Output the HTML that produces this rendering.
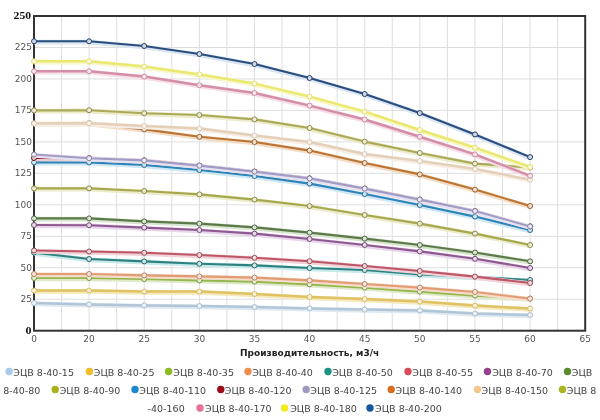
<!DOCTYPE html>
<html><head><meta charset="utf-8"><title>ЭЦВ 8-40</title>
<style>
html,body{margin:0;padding:0;background:#fff;width:600px;height:420px;overflow:hidden}
svg{display:block}
.ax{font-family:"DejaVu Sans","Liberation Sans",sans-serif;font-size:9px;fill:#555}
.axb{font-family:"DejaVu Sans","Liberation Sans",sans-serif;font-size:9px;font-weight:bold;fill:#222}
.sb{font-family:"Liberation Serif",serif;font-size:10.5px;font-weight:bold;fill:#111}
.lg{font-family:"DejaVu Sans","Liberation Sans",sans-serif;font-size:9.5px;fill:#444}
</style></head><body>
<svg width="600" height="420" viewBox="0 0 600 420">
<rect x="0" y="0" width="600" height="420" fill="#fff"/>
<path d="M61.56 16.0V330.7 M89.12 16.0V330.7 M116.68 16.0V330.7 M144.24 16.0V330.7 M171.80 16.0V330.7 M199.36 16.0V330.7 M226.92 16.0V330.7 M254.48 16.0V330.7 M282.04 16.0V330.7 M309.60 16.0V330.7 M337.16 16.0V330.7 M364.72 16.0V330.7 M392.28 16.0V330.7 M419.84 16.0V330.7 M447.40 16.0V330.7 M474.96 16.0V330.7 M502.52 16.0V330.7 M530.08 16.0V330.7 M557.64 16.0V330.7 M34.0 299.23H585.2 M34.0 267.76H585.2 M34.0 236.29H585.2 M34.0 204.82H585.2 M34.0 173.35H585.2 M34.0 141.88H585.2 M34.0 110.41H585.2 M34.0 78.94H585.2 M34.0 47.47H585.2" stroke="#dedede" stroke-width="1" fill="none"/>
<rect x="34.0" y="16.0" width="551.2" height="314.7" fill="none" stroke="#333" stroke-width="2"/>
<polyline points="34.0,303.8 89.1,305.2 144.2,306.2 199.4,306.8 254.5,307.8 309.6,309.2 364.7,310.4 419.8,311.2 475.0,314.4 530.1,315.8" fill="none" stroke="#dfe9f1" stroke-width="4.8" stroke-linejoin="round"/>
<polyline points="34.0,303.0 89.1,304.4 144.2,305.4 199.4,306.0 254.5,307.0 309.6,308.4 364.7,309.6 419.8,310.4 475.0,313.6 530.1,315.0" fill="none" stroke="#b0c6d8" stroke-width="2.5" stroke-linejoin="round"/>
<circle cx="34.0" cy="303.0" r="2.5" fill="#eef2f6" stroke="#a9becf" stroke-width="1"/><circle cx="89.1" cy="304.4" r="2.5" fill="#eef2f6" stroke="#a9becf" stroke-width="1"/><circle cx="144.2" cy="305.4" r="2.5" fill="#eef2f6" stroke="#a9becf" stroke-width="1"/><circle cx="199.4" cy="306.0" r="2.5" fill="#eef2f6" stroke="#a9becf" stroke-width="1"/><circle cx="254.5" cy="307.0" r="2.5" fill="#eef2f6" stroke="#a9becf" stroke-width="1"/><circle cx="309.6" cy="308.4" r="2.5" fill="#eef2f6" stroke="#a9becf" stroke-width="1"/><circle cx="364.7" cy="309.6" r="2.5" fill="#eef2f6" stroke="#a9becf" stroke-width="1"/><circle cx="419.8" cy="310.4" r="2.5" fill="#eef2f6" stroke="#a9becf" stroke-width="1"/><circle cx="475.0" cy="313.6" r="2.5" fill="#eef2f6" stroke="#a9becf" stroke-width="1"/><circle cx="530.1" cy="315.0" r="2.5" fill="#eef2f6" stroke="#a9becf" stroke-width="1"/>
<polyline points="34.0,291.4 89.1,291.4 144.2,292.4 199.4,292.4 254.5,294.8 309.6,297.8 364.7,299.8 419.8,302.4 475.0,306.4 530.1,309.4" fill="none" stroke="#f5e9bb" stroke-width="4.8" stroke-linejoin="round"/>
<polyline points="34.0,290.6 89.1,290.6 144.2,291.6 199.4,291.6 254.5,294.0 309.6,297.0 364.7,299.0 419.8,301.6 475.0,305.6 530.1,308.6" fill="none" stroke="#e0c262" stroke-width="2.5" stroke-linejoin="round"/>
<circle cx="34.0" cy="290.6" r="2.5" fill="#f8f2dc" stroke="#d7ba5e" stroke-width="1"/><circle cx="89.1" cy="290.6" r="2.5" fill="#f8f2dc" stroke="#d7ba5e" stroke-width="1"/><circle cx="144.2" cy="291.6" r="2.5" fill="#f8f2dc" stroke="#d7ba5e" stroke-width="1"/><circle cx="199.4" cy="291.6" r="2.5" fill="#f8f2dc" stroke="#d7ba5e" stroke-width="1"/><circle cx="254.5" cy="294.0" r="2.5" fill="#f8f2dc" stroke="#d7ba5e" stroke-width="1"/><circle cx="309.6" cy="297.0" r="2.5" fill="#f8f2dc" stroke="#d7ba5e" stroke-width="1"/><circle cx="364.7" cy="299.0" r="2.5" fill="#f8f2dc" stroke="#d7ba5e" stroke-width="1"/><circle cx="419.8" cy="301.6" r="2.5" fill="#f8f2dc" stroke="#d7ba5e" stroke-width="1"/><circle cx="475.0" cy="305.6" r="2.5" fill="#f8f2dc" stroke="#d7ba5e" stroke-width="1"/><circle cx="530.1" cy="308.6" r="2.5" fill="#f8f2dc" stroke="#d7ba5e" stroke-width="1"/>
<polyline points="34.0,278.8 89.1,278.8 144.2,279.8 199.4,281.2 254.5,282.4 309.6,285.2 364.7,288.4 419.8,292.4 475.0,296.4 530.1,299.4" fill="none" stroke="#e0eacb" stroke-width="4.8" stroke-linejoin="round"/>
<polyline points="34.0,278.0 89.1,278.0 144.2,279.0 199.4,280.4 254.5,281.6 309.6,284.4 364.7,287.6 419.8,291.6 475.0,295.6 530.1,298.6" fill="none" stroke="#96b64e" stroke-width="2.1" stroke-linejoin="round"/>
<circle cx="34.0" cy="278.0" r="2.5" fill="#e8efd8" stroke="#7b9540" stroke-width="1"/><circle cx="89.1" cy="278.0" r="2.5" fill="#e8efd8" stroke="#7b9540" stroke-width="1"/><circle cx="144.2" cy="279.0" r="2.5" fill="#e8efd8" stroke="#7b9540" stroke-width="1"/><circle cx="199.4" cy="280.4" r="2.5" fill="#e8efd8" stroke="#7b9540" stroke-width="1"/><circle cx="254.5" cy="281.6" r="2.5" fill="#e8efd8" stroke="#7b9540" stroke-width="1"/><circle cx="309.6" cy="284.4" r="2.5" fill="#e8efd8" stroke="#7b9540" stroke-width="1"/><circle cx="364.7" cy="287.6" r="2.5" fill="#e8efd8" stroke="#7b9540" stroke-width="1"/><circle cx="419.8" cy="291.6" r="2.5" fill="#e8efd8" stroke="#7b9540" stroke-width="1"/><circle cx="475.0" cy="295.6" r="2.5" fill="#e8efd8" stroke="#7b9540" stroke-width="1"/><circle cx="530.1" cy="298.6" r="2.5" fill="#e8efd8" stroke="#7b9540" stroke-width="1"/>
<polyline points="34.0,274.8 89.1,274.8 144.2,276.2 199.4,277.2 254.5,278.4 309.6,281.2 364.7,284.8 419.8,288.4 475.0,292.8 530.1,299.4" fill="none" stroke="#f6dccb" stroke-width="4.8" stroke-linejoin="round"/>
<polyline points="34.0,274.0 89.1,274.0 144.2,275.4 199.4,276.4 254.5,277.6 309.6,280.4 364.7,284.0 419.8,287.6 475.0,292.0 530.1,298.6" fill="none" stroke="#e29c74" stroke-width="2.1" stroke-linejoin="round"/>
<circle cx="34.0" cy="274.0" r="2.5" fill="#f9e9e0" stroke="#b9805f" stroke-width="1"/><circle cx="89.1" cy="274.0" r="2.5" fill="#f9e9e0" stroke="#b9805f" stroke-width="1"/><circle cx="144.2" cy="275.4" r="2.5" fill="#f9e9e0" stroke="#b9805f" stroke-width="1"/><circle cx="199.4" cy="276.4" r="2.5" fill="#f9e9e0" stroke="#b9805f" stroke-width="1"/><circle cx="254.5" cy="277.6" r="2.5" fill="#f9e9e0" stroke="#b9805f" stroke-width="1"/><circle cx="309.6" cy="280.4" r="2.5" fill="#f9e9e0" stroke="#b9805f" stroke-width="1"/><circle cx="364.7" cy="284.0" r="2.5" fill="#f9e9e0" stroke="#b9805f" stroke-width="1"/><circle cx="419.8" cy="287.6" r="2.5" fill="#f9e9e0" stroke="#b9805f" stroke-width="1"/><circle cx="475.0" cy="292.0" r="2.5" fill="#f9e9e0" stroke="#b9805f" stroke-width="1"/><circle cx="530.1" cy="298.6" r="2.5" fill="#f9e9e0" stroke="#b9805f" stroke-width="1"/>
<polyline points="34.0,253.4 89.1,259.8 144.2,262.2 199.4,264.6 254.5,266.2 309.6,268.8 364.7,270.8 419.8,275.2 475.0,277.8 530.1,280.8" fill="none" stroke="#c8eaea" stroke-width="4.8" stroke-linejoin="round"/>
<polyline points="34.0,252.6 89.1,259.0 144.2,261.4 199.4,263.8 254.5,265.4 309.6,268.0 364.7,270.0 419.8,274.4 475.0,277.0 530.1,280.0" fill="none" stroke="#2d8281" stroke-width="2.1" stroke-linejoin="round"/>
<circle cx="34.0" cy="252.6" r="2.5" fill="#d1e4e3" stroke="#256b6a" stroke-width="1"/><circle cx="89.1" cy="259.0" r="2.5" fill="#d1e4e3" stroke="#256b6a" stroke-width="1"/><circle cx="144.2" cy="261.4" r="2.5" fill="#d1e4e3" stroke="#256b6a" stroke-width="1"/><circle cx="199.4" cy="263.8" r="2.5" fill="#d1e4e3" stroke="#256b6a" stroke-width="1"/><circle cx="254.5" cy="265.4" r="2.5" fill="#d1e4e3" stroke="#256b6a" stroke-width="1"/><circle cx="309.6" cy="268.0" r="2.5" fill="#d1e4e3" stroke="#256b6a" stroke-width="1"/><circle cx="364.7" cy="270.0" r="2.5" fill="#d1e4e3" stroke="#256b6a" stroke-width="1"/><circle cx="419.8" cy="274.4" r="2.5" fill="#d1e4e3" stroke="#256b6a" stroke-width="1"/><circle cx="475.0" cy="277.0" r="2.5" fill="#d1e4e3" stroke="#256b6a" stroke-width="1"/><circle cx="530.1" cy="280.0" r="2.5" fill="#d1e4e3" stroke="#256b6a" stroke-width="1"/>
<polyline points="34.0,251.3 89.1,252.3 144.2,253.6 199.4,255.8 254.5,258.6 309.6,262.0 364.7,266.8 419.8,271.8 475.0,277.4 530.1,283.8" fill="none" stroke="#f1d2d8" stroke-width="4.8" stroke-linejoin="round"/>
<polyline points="34.0,250.5 89.1,251.5 144.2,252.8 199.4,255.0 254.5,257.8 309.6,261.2 364.7,266.0 419.8,271.0 475.0,276.6 530.1,283.0" fill="none" stroke="#bd5666" stroke-width="2.1" stroke-linejoin="round"/>
<circle cx="34.0" cy="250.5" r="2.5" fill="#f0dadd" stroke="#9b4754" stroke-width="1"/><circle cx="89.1" cy="251.5" r="2.5" fill="#f0dadd" stroke="#9b4754" stroke-width="1"/><circle cx="144.2" cy="252.8" r="2.5" fill="#f0dadd" stroke="#9b4754" stroke-width="1"/><circle cx="199.4" cy="255.0" r="2.5" fill="#f0dadd" stroke="#9b4754" stroke-width="1"/><circle cx="254.5" cy="257.8" r="2.5" fill="#f0dadd" stroke="#9b4754" stroke-width="1"/><circle cx="309.6" cy="261.2" r="2.5" fill="#f0dadd" stroke="#9b4754" stroke-width="1"/><circle cx="364.7" cy="266.0" r="2.5" fill="#f0dadd" stroke="#9b4754" stroke-width="1"/><circle cx="419.8" cy="271.0" r="2.5" fill="#f0dadd" stroke="#9b4754" stroke-width="1"/><circle cx="475.0" cy="276.6" r="2.5" fill="#f0dadd" stroke="#9b4754" stroke-width="1"/><circle cx="530.1" cy="283.0" r="2.5" fill="#f0dadd" stroke="#9b4754" stroke-width="1"/>
<polyline points="34.0,225.8 89.1,226.0 144.2,228.4 199.4,230.8 254.5,234.4 309.6,239.8 364.7,245.8 419.8,252.2 475.0,259.6 530.1,268.8" fill="none" stroke="#e8d6ea" stroke-width="4.8" stroke-linejoin="round"/>
<polyline points="34.0,225.0 89.1,225.2 144.2,227.6 199.4,230.0 254.5,233.6 309.6,239.0 364.7,245.0 419.8,251.4 475.0,258.8 530.1,268.0" fill="none" stroke="#8e5890" stroke-width="2.1" stroke-linejoin="round"/>
<circle cx="34.0" cy="225.0" r="2.5" fill="#e6dae7" stroke="#744876" stroke-width="1"/><circle cx="89.1" cy="225.2" r="2.5" fill="#e6dae7" stroke="#744876" stroke-width="1"/><circle cx="144.2" cy="227.6" r="2.5" fill="#e6dae7" stroke="#744876" stroke-width="1"/><circle cx="199.4" cy="230.0" r="2.5" fill="#e6dae7" stroke="#744876" stroke-width="1"/><circle cx="254.5" cy="233.6" r="2.5" fill="#e6dae7" stroke="#744876" stroke-width="1"/><circle cx="309.6" cy="239.0" r="2.5" fill="#e6dae7" stroke="#744876" stroke-width="1"/><circle cx="364.7" cy="245.0" r="2.5" fill="#e6dae7" stroke="#744876" stroke-width="1"/><circle cx="419.8" cy="251.4" r="2.5" fill="#e6dae7" stroke="#744876" stroke-width="1"/><circle cx="475.0" cy="258.8" r="2.5" fill="#e6dae7" stroke="#744876" stroke-width="1"/><circle cx="530.1" cy="268.0" r="2.5" fill="#e6dae7" stroke="#744876" stroke-width="1"/>
<polyline points="34.0,219.2 89.1,219.2 144.2,222.2 199.4,224.4 254.5,228.2 309.6,233.4 364.7,239.4 419.8,245.8 475.0,253.3 530.1,262.1" fill="none" stroke="#d8e4cf" stroke-width="4.8" stroke-linejoin="round"/>
<polyline points="34.0,218.4 89.1,218.4 144.2,221.4 199.4,223.6 254.5,227.4 309.6,232.6 364.7,238.6 419.8,245.0 475.0,252.5 530.1,261.3" fill="none" stroke="#5a7a48" stroke-width="2.1" stroke-linejoin="round"/>
<circle cx="34.0" cy="218.4" r="2.5" fill="#dbe2d7" stroke="#4a643b" stroke-width="1"/><circle cx="89.1" cy="218.4" r="2.5" fill="#dbe2d7" stroke="#4a643b" stroke-width="1"/><circle cx="144.2" cy="221.4" r="2.5" fill="#dbe2d7" stroke="#4a643b" stroke-width="1"/><circle cx="199.4" cy="223.6" r="2.5" fill="#dbe2d7" stroke="#4a643b" stroke-width="1"/><circle cx="254.5" cy="227.4" r="2.5" fill="#dbe2d7" stroke="#4a643b" stroke-width="1"/><circle cx="309.6" cy="232.6" r="2.5" fill="#dbe2d7" stroke="#4a643b" stroke-width="1"/><circle cx="364.7" cy="238.6" r="2.5" fill="#dbe2d7" stroke="#4a643b" stroke-width="1"/><circle cx="419.8" cy="245.0" r="2.5" fill="#dbe2d7" stroke="#4a643b" stroke-width="1"/><circle cx="475.0" cy="252.5" r="2.5" fill="#dbe2d7" stroke="#4a643b" stroke-width="1"/><circle cx="530.1" cy="261.3" r="2.5" fill="#dbe2d7" stroke="#4a643b" stroke-width="1"/>
<polyline points="34.0,189.2 89.1,189.2 144.2,191.8 199.4,195.2 254.5,200.4 309.6,206.8 364.7,215.8 419.8,224.4 475.0,234.4 530.1,245.8" fill="none" stroke="#ececcb" stroke-width="4.8" stroke-linejoin="round"/>
<polyline points="34.0,188.4 89.1,188.4 144.2,191.0 199.4,194.4 254.5,199.6 309.6,206.0 364.7,215.0 419.8,223.6 475.0,233.6 530.1,245.0" fill="none" stroke="#a6a84e" stroke-width="2.1" stroke-linejoin="round"/>
<circle cx="34.0" cy="188.4" r="2.5" fill="#ebecd8" stroke="#888a40" stroke-width="1"/><circle cx="89.1" cy="188.4" r="2.5" fill="#ebecd8" stroke="#888a40" stroke-width="1"/><circle cx="144.2" cy="191.0" r="2.5" fill="#ebecd8" stroke="#888a40" stroke-width="1"/><circle cx="199.4" cy="194.4" r="2.5" fill="#ebecd8" stroke="#888a40" stroke-width="1"/><circle cx="254.5" cy="199.6" r="2.5" fill="#ebecd8" stroke="#888a40" stroke-width="1"/><circle cx="309.6" cy="206.0" r="2.5" fill="#ebecd8" stroke="#888a40" stroke-width="1"/><circle cx="364.7" cy="215.0" r="2.5" fill="#ebecd8" stroke="#888a40" stroke-width="1"/><circle cx="419.8" cy="223.6" r="2.5" fill="#ebecd8" stroke="#888a40" stroke-width="1"/><circle cx="475.0" cy="233.6" r="2.5" fill="#ebecd8" stroke="#888a40" stroke-width="1"/><circle cx="530.1" cy="245.0" r="2.5" fill="#ebecd8" stroke="#888a40" stroke-width="1"/>
<polyline points="34.0,163.2 89.1,163.2 144.2,165.8 199.4,170.8 254.5,176.8 309.6,184.4 364.7,194.8 419.8,205.8 475.0,217.4 530.1,230.8" fill="none" stroke="#d0e7f5" stroke-width="4.8" stroke-linejoin="round"/>
<polyline points="34.0,162.4 89.1,162.4 144.2,165.0 199.4,170.0 254.5,176.0 309.6,183.6 364.7,194.0 419.8,205.0 475.0,216.6 530.1,230.0" fill="none" stroke="#2e84b6" stroke-width="2.1" stroke-linejoin="round"/>
<circle cx="34.0" cy="162.4" r="2.5" fill="#d1e4ef" stroke="#266c95" stroke-width="1"/><circle cx="89.1" cy="162.4" r="2.5" fill="#d1e4ef" stroke="#266c95" stroke-width="1"/><circle cx="144.2" cy="165.0" r="2.5" fill="#d1e4ef" stroke="#266c95" stroke-width="1"/><circle cx="199.4" cy="170.0" r="2.5" fill="#d1e4ef" stroke="#266c95" stroke-width="1"/><circle cx="254.5" cy="176.0" r="2.5" fill="#d1e4ef" stroke="#266c95" stroke-width="1"/><circle cx="309.6" cy="183.6" r="2.5" fill="#d1e4ef" stroke="#266c95" stroke-width="1"/><circle cx="364.7" cy="194.0" r="2.5" fill="#d1e4ef" stroke="#266c95" stroke-width="1"/><circle cx="419.8" cy="205.0" r="2.5" fill="#d1e4ef" stroke="#266c95" stroke-width="1"/><circle cx="475.0" cy="216.6" r="2.5" fill="#d1e4ef" stroke="#266c95" stroke-width="1"/><circle cx="530.1" cy="230.0" r="2.5" fill="#d1e4ef" stroke="#266c95" stroke-width="1"/>
<polyline points="34.0,158.8 89.1,159.0 144.2,161.2 199.4,166.4 254.5,172.4 309.6,179.2 364.7,189.4 419.8,200.4 475.0,211.8 530.1,227.2" fill="none" stroke="#ead0d2" stroke-width="4.8" stroke-linejoin="round"/>
<polyline points="34.0,158.0 89.1,158.2 144.2,160.4 199.4,165.6 254.5,171.6 309.6,178.4 364.7,188.6 419.8,199.6 475.0,211.0 530.1,226.4" fill="none" stroke="#8e1020" stroke-width="2.1" stroke-linejoin="round"/>
<circle cx="34.0" cy="158.0" r="2.5" fill="#e6cace" stroke="#740d1a" stroke-width="1"/><circle cx="89.1" cy="158.2" r="2.5" fill="#e6cace" stroke="#740d1a" stroke-width="1"/><circle cx="144.2" cy="160.4" r="2.5" fill="#e6cace" stroke="#740d1a" stroke-width="1"/><circle cx="199.4" cy="165.6" r="2.5" fill="#e6cace" stroke="#740d1a" stroke-width="1"/><circle cx="254.5" cy="171.6" r="2.5" fill="#e6cace" stroke="#740d1a" stroke-width="1"/><circle cx="309.6" cy="178.4" r="2.5" fill="#e6cace" stroke="#740d1a" stroke-width="1"/><circle cx="364.7" cy="188.6" r="2.5" fill="#e6cace" stroke="#740d1a" stroke-width="1"/><circle cx="419.8" cy="199.6" r="2.5" fill="#e6cace" stroke="#740d1a" stroke-width="1"/><circle cx="475.0" cy="211.0" r="2.5" fill="#e6cace" stroke="#740d1a" stroke-width="1"/><circle cx="530.1" cy="226.4" r="2.5" fill="#e6cace" stroke="#740d1a" stroke-width="1"/>
<polyline points="34.0,155.3 89.1,159.0 144.2,161.2 199.4,166.4 254.5,172.4 309.6,179.2 364.7,189.4 419.8,200.4 475.0,211.8 530.1,227.2" fill="none" stroke="#e6e2f1" stroke-width="4.8" stroke-linejoin="round"/>
<polyline points="34.0,154.5 89.1,158.2 144.2,160.4 199.4,165.6 254.5,171.6 309.6,178.4 364.7,188.6 419.8,199.6 475.0,211.0 530.1,226.4" fill="none" stroke="#a29bc4" stroke-width="2.1" stroke-linejoin="round"/>
<circle cx="34.0" cy="154.5" r="2.5" fill="#ebe9f2" stroke="#857fa1" stroke-width="1"/><circle cx="89.1" cy="158.2" r="2.5" fill="#ebe9f2" stroke="#857fa1" stroke-width="1"/><circle cx="144.2" cy="160.4" r="2.5" fill="#ebe9f2" stroke="#857fa1" stroke-width="1"/><circle cx="199.4" cy="165.6" r="2.5" fill="#ebe9f2" stroke="#857fa1" stroke-width="1"/><circle cx="254.5" cy="171.6" r="2.5" fill="#ebe9f2" stroke="#857fa1" stroke-width="1"/><circle cx="309.6" cy="178.4" r="2.5" fill="#ebe9f2" stroke="#857fa1" stroke-width="1"/><circle cx="364.7" cy="188.6" r="2.5" fill="#ebe9f2" stroke="#857fa1" stroke-width="1"/><circle cx="419.8" cy="199.6" r="2.5" fill="#ebe9f2" stroke="#857fa1" stroke-width="1"/><circle cx="475.0" cy="211.0" r="2.5" fill="#ebe9f2" stroke="#857fa1" stroke-width="1"/><circle cx="530.1" cy="226.4" r="2.5" fill="#ebe9f2" stroke="#857fa1" stroke-width="1"/>
<polyline points="34.0,124.2 89.1,124.0 144.2,130.2 199.4,137.6 254.5,142.8 309.6,151.4 364.7,163.8 419.8,175.2 475.0,190.4 530.1,206.8" fill="none" stroke="#f3ddc6" stroke-width="4.8" stroke-linejoin="round"/>
<polyline points="34.0,123.4 89.1,123.2 144.2,129.4 199.4,136.8 254.5,142.0 309.6,150.6 364.7,163.0 419.8,174.4 475.0,189.6 530.1,206.0" fill="none" stroke="#bb7434" stroke-width="2.1" stroke-linejoin="round"/>
<circle cx="34.0" cy="123.4" r="2.5" fill="#f0e0d2" stroke="#995f2b" stroke-width="1"/><circle cx="89.1" cy="123.2" r="2.5" fill="#f0e0d2" stroke="#995f2b" stroke-width="1"/><circle cx="144.2" cy="129.4" r="2.5" fill="#f0e0d2" stroke="#995f2b" stroke-width="1"/><circle cx="199.4" cy="136.8" r="2.5" fill="#f0e0d2" stroke="#995f2b" stroke-width="1"/><circle cx="254.5" cy="142.0" r="2.5" fill="#f0e0d2" stroke="#995f2b" stroke-width="1"/><circle cx="309.6" cy="150.6" r="2.5" fill="#f0e0d2" stroke="#995f2b" stroke-width="1"/><circle cx="364.7" cy="163.0" r="2.5" fill="#f0e0d2" stroke="#995f2b" stroke-width="1"/><circle cx="419.8" cy="174.4" r="2.5" fill="#f0e0d2" stroke="#995f2b" stroke-width="1"/><circle cx="475.0" cy="189.6" r="2.5" fill="#f0e0d2" stroke="#995f2b" stroke-width="1"/><circle cx="530.1" cy="206.0" r="2.5" fill="#f0e0d2" stroke="#995f2b" stroke-width="1"/>
<polyline points="34.0,124.2 89.1,124.0 144.2,126.8 199.4,129.2 254.5,136.4 309.6,142.8 364.7,154.8 419.8,161.8 475.0,169.8 530.1,180.5" fill="none" stroke="#f7efe6" stroke-width="4.8" stroke-linejoin="round"/>
<polyline points="34.0,123.4 89.1,123.2 144.2,126.0 199.4,128.4 254.5,135.6 309.6,142.0 364.7,154.0 419.8,161.0 475.0,169.0 530.1,179.7" fill="none" stroke="#e4cfb8" stroke-width="2.5" stroke-linejoin="round"/>
<circle cx="34.0" cy="123.4" r="2.5" fill="#f9f4ef" stroke="#dbc7b1" stroke-width="1"/><circle cx="89.1" cy="123.2" r="2.5" fill="#f9f4ef" stroke="#dbc7b1" stroke-width="1"/><circle cx="144.2" cy="126.0" r="2.5" fill="#f9f4ef" stroke="#dbc7b1" stroke-width="1"/><circle cx="199.4" cy="128.4" r="2.5" fill="#f9f4ef" stroke="#dbc7b1" stroke-width="1"/><circle cx="254.5" cy="135.6" r="2.5" fill="#f9f4ef" stroke="#dbc7b1" stroke-width="1"/><circle cx="309.6" cy="142.0" r="2.5" fill="#f9f4ef" stroke="#dbc7b1" stroke-width="1"/><circle cx="364.7" cy="154.0" r="2.5" fill="#f9f4ef" stroke="#dbc7b1" stroke-width="1"/><circle cx="419.8" cy="161.0" r="2.5" fill="#f9f4ef" stroke="#dbc7b1" stroke-width="1"/><circle cx="475.0" cy="169.0" r="2.5" fill="#f9f4ef" stroke="#dbc7b1" stroke-width="1"/><circle cx="530.1" cy="179.7" r="2.5" fill="#f9f4ef" stroke="#dbc7b1" stroke-width="1"/>
<polyline points="34.0,111.2 89.1,111.0 144.2,114.0 199.4,115.8 254.5,120.2 309.6,128.8 364.7,142.4 419.8,153.8 475.0,164.4 530.1,168.3" fill="none" stroke="#ececcc" stroke-width="4.8" stroke-linejoin="round"/>
<polyline points="34.0,110.4 89.1,110.2 144.2,113.2 199.4,115.0 254.5,119.4 309.6,128.0 364.7,141.6 419.8,153.0 475.0,163.6 530.1,167.5" fill="none" stroke="#aaaa58" stroke-width="2.1" stroke-linejoin="round"/>
<circle cx="34.0" cy="110.4" r="2.5" fill="#ececda" stroke="#8b8b48" stroke-width="1"/><circle cx="89.1" cy="110.2" r="2.5" fill="#ececda" stroke="#8b8b48" stroke-width="1"/><circle cx="144.2" cy="113.2" r="2.5" fill="#ececda" stroke="#8b8b48" stroke-width="1"/><circle cx="199.4" cy="115.0" r="2.5" fill="#ececda" stroke="#8b8b48" stroke-width="1"/><circle cx="254.5" cy="119.4" r="2.5" fill="#ececda" stroke="#8b8b48" stroke-width="1"/><circle cx="309.6" cy="128.0" r="2.5" fill="#ececda" stroke="#8b8b48" stroke-width="1"/><circle cx="364.7" cy="141.6" r="2.5" fill="#ececda" stroke="#8b8b48" stroke-width="1"/><circle cx="419.8" cy="153.0" r="2.5" fill="#ececda" stroke="#8b8b48" stroke-width="1"/><circle cx="475.0" cy="163.6" r="2.5" fill="#ececda" stroke="#8b8b48" stroke-width="1"/><circle cx="530.1" cy="167.5" r="2.5" fill="#ececda" stroke="#8b8b48" stroke-width="1"/>
<polyline points="34.0,72.1 89.1,72.1 144.2,77.4 199.4,86.0 254.5,93.8 309.6,106.4 364.7,120.3 419.8,137.6 475.0,155.2 530.1,176.6" fill="none" stroke="#f5dee7" stroke-width="4.8" stroke-linejoin="round"/>
<polyline points="34.0,71.3 89.1,71.3 144.2,76.6 199.4,85.2 254.5,93.0 309.6,105.6 364.7,119.5 419.8,136.8 475.0,154.4 530.1,175.8" fill="none" stroke="#d48ea8" stroke-width="2.5" stroke-linejoin="round"/>
<circle cx="34.0" cy="71.3" r="2.5" fill="#f6e6ec" stroke="#cc88a1" stroke-width="1"/><circle cx="89.1" cy="71.3" r="2.5" fill="#f6e6ec" stroke="#cc88a1" stroke-width="1"/><circle cx="144.2" cy="76.6" r="2.5" fill="#f6e6ec" stroke="#cc88a1" stroke-width="1"/><circle cx="199.4" cy="85.2" r="2.5" fill="#f6e6ec" stroke="#cc88a1" stroke-width="1"/><circle cx="254.5" cy="93.0" r="2.5" fill="#f6e6ec" stroke="#cc88a1" stroke-width="1"/><circle cx="309.6" cy="105.6" r="2.5" fill="#f6e6ec" stroke="#cc88a1" stroke-width="1"/><circle cx="364.7" cy="119.5" r="2.5" fill="#f6e6ec" stroke="#cc88a1" stroke-width="1"/><circle cx="419.8" cy="136.8" r="2.5" fill="#f6e6ec" stroke="#cc88a1" stroke-width="1"/><circle cx="475.0" cy="154.4" r="2.5" fill="#f6e6ec" stroke="#cc88a1" stroke-width="1"/><circle cx="530.1" cy="175.8" r="2.5" fill="#f6e6ec" stroke="#cc88a1" stroke-width="1"/>
<polyline points="34.0,62.1 89.1,62.1 144.2,67.4 199.4,75.2 254.5,84.4 309.6,97.4 364.7,112.4 419.8,130.8 475.0,148.4 530.1,167.8" fill="none" stroke="#f8f7cc" stroke-width="4.8" stroke-linejoin="round"/>
<polyline points="34.0,61.3 89.1,61.3 144.2,66.6 199.4,74.4 254.5,83.6 309.6,96.6 364.7,111.6 419.8,130.0 475.0,147.6 530.1,167.0" fill="none" stroke="#ebe872" stroke-width="2.5" stroke-linejoin="round"/>
<circle cx="34.0" cy="61.3" r="2.5" fill="#fbfae0" stroke="#e2df6d" stroke-width="1"/><circle cx="89.1" cy="61.3" r="2.5" fill="#fbfae0" stroke="#e2df6d" stroke-width="1"/><circle cx="144.2" cy="66.6" r="2.5" fill="#fbfae0" stroke="#e2df6d" stroke-width="1"/><circle cx="199.4" cy="74.4" r="2.5" fill="#fbfae0" stroke="#e2df6d" stroke-width="1"/><circle cx="254.5" cy="83.6" r="2.5" fill="#fbfae0" stroke="#e2df6d" stroke-width="1"/><circle cx="309.6" cy="96.6" r="2.5" fill="#fbfae0" stroke="#e2df6d" stroke-width="1"/><circle cx="364.7" cy="111.6" r="2.5" fill="#fbfae0" stroke="#e2df6d" stroke-width="1"/><circle cx="419.8" cy="130.0" r="2.5" fill="#fbfae0" stroke="#e2df6d" stroke-width="1"/><circle cx="475.0" cy="147.6" r="2.5" fill="#fbfae0" stroke="#e2df6d" stroke-width="1"/><circle cx="530.1" cy="167.0" r="2.5" fill="#fbfae0" stroke="#e2df6d" stroke-width="1"/>
<polyline points="34.0,42.1 89.1,42.1 144.2,46.8 199.4,54.8 254.5,64.8 309.6,78.8 364.7,94.8 419.8,113.8 475.0,135.2 530.1,157.9" fill="none" stroke="#dae5f1" stroke-width="4.8" stroke-linejoin="round"/>
<polyline points="34.0,41.3 89.1,41.3 144.2,46.0 199.4,54.0 254.5,64.0 309.6,78.0 364.7,94.0 419.8,113.0 475.0,134.4 530.1,157.1" fill="none" stroke="#294d7e" stroke-width="2.1" stroke-linejoin="round"/>
<circle cx="34.0" cy="41.3" r="2.5" fill="#d0d8e3" stroke="#223f67" stroke-width="1"/><circle cx="89.1" cy="41.3" r="2.5" fill="#d0d8e3" stroke="#223f67" stroke-width="1"/><circle cx="144.2" cy="46.0" r="2.5" fill="#d0d8e3" stroke="#223f67" stroke-width="1"/><circle cx="199.4" cy="54.0" r="2.5" fill="#d0d8e3" stroke="#223f67" stroke-width="1"/><circle cx="254.5" cy="64.0" r="2.5" fill="#d0d8e3" stroke="#223f67" stroke-width="1"/><circle cx="309.6" cy="78.0" r="2.5" fill="#d0d8e3" stroke="#223f67" stroke-width="1"/><circle cx="364.7" cy="94.0" r="2.5" fill="#d0d8e3" stroke="#223f67" stroke-width="1"/><circle cx="419.8" cy="113.0" r="2.5" fill="#d0d8e3" stroke="#223f67" stroke-width="1"/><circle cx="475.0" cy="134.4" r="2.5" fill="#d0d8e3" stroke="#223f67" stroke-width="1"/><circle cx="530.1" cy="157.1" r="2.5" fill="#d0d8e3" stroke="#223f67" stroke-width="1"/>
<text class="ax" x="32" y="301.9" text-anchor="end">25</text>
<text class="ax" x="32" y="270.5" text-anchor="end">50</text>
<text class="ax" x="32" y="239.0" text-anchor="end">75</text>
<text class="ax" x="32" y="207.5" text-anchor="end">100</text>
<text class="ax" x="32" y="176.0" text-anchor="end">125</text>
<text class="ax" x="32" y="144.6" text-anchor="end">150</text>
<text class="ax" x="32" y="113.1" text-anchor="end">175</text>
<text class="ax" x="32" y="81.6" text-anchor="end">200</text>
<text class="ax" x="32" y="50.2" text-anchor="end">225</text>
<text class="sb" x="13.6" y="19.2" textLength="17.6" lengthAdjust="spacingAndGlyphs">250</text>
<text class="sb" x="25.6" y="333.6" textLength="6" lengthAdjust="spacingAndGlyphs">0</text>
<text class="ax" x="34.0" y="342" text-anchor="middle">0</text>
<text class="ax" x="89.1" y="342" text-anchor="middle">20</text>
<text class="ax" x="144.2" y="342" text-anchor="middle">25</text>
<text class="ax" x="199.4" y="342" text-anchor="middle">30</text>
<text class="ax" x="254.5" y="342" text-anchor="middle">35</text>
<text class="ax" x="309.6" y="342" text-anchor="middle">40</text>
<text class="ax" x="364.7" y="342" text-anchor="middle">45</text>
<text class="ax" x="419.8" y="342" text-anchor="middle">50</text>
<text class="ax" x="475.0" y="342" text-anchor="middle">55</text>
<text class="ax" x="530.1" y="342" text-anchor="middle">60</text>
<text class="ax" x="585.2" y="342" text-anchor="middle">65</text>
<text class="axb" x="309.6" y="356" text-anchor="middle">Производительность, м3/ч</text>
<circle cx="9.1" cy="371.5" r="3.7" fill="#a9cbeb"/><text class="lg" x="13.3" y="375.8">ЭЦВ 8-40-15</text>
<circle cx="89.4" cy="371.5" r="3.7" fill="#efbc2a"/><text class="lg" x="93.8" y="375.8">ЭЦВ 8-40-25</text>
<circle cx="168.6" cy="371.5" r="3.7" fill="#8cbc21"/><text class="lg" x="173.3" y="375.8">ЭЦВ 8-40-35</text>
<circle cx="248.0" cy="371.5" r="3.7" fill="#f08c4a"/><text class="lg" x="252.2" y="375.8">ЭЦВ 8-40-40</text>
<circle cx="328.0" cy="371.5" r="3.7" fill="#1a9385"/><text class="lg" x="332.2" y="375.8">ЭЦВ 8-40-50</text>
<circle cx="408.0" cy="371.5" r="3.7" fill="#d84a5c"/><text class="lg" x="412.3" y="375.8">ЭЦВ 8-40-55</text>
<circle cx="487.5" cy="371.5" r="3.7" fill="#96408e"/><text class="lg" x="492.2" y="375.8">ЭЦВ 8-40-70</text>
<circle cx="567.5" cy="371.5" r="3.7" fill="#5a8a2c"/><text class="lg" x="571.8" y="375.8">ЭЦВ</text>
<text class="lg" x="3.3" y="393.8">8-40-80</text>
<circle cx="55.2" cy="389.5" r="3.7" fill="#a8b214"/><text class="lg" x="59.7" y="393.8">ЭЦВ 8-40-90</text>
<circle cx="135.0" cy="389.5" r="3.7" fill="#1a88cc"/><text class="lg" x="139.3" y="393.8">ЭЦВ 8-40-110</text>
<circle cx="220.8" cy="389.5" r="3.7" fill="#9e0a1a"/><text class="lg" x="224.8" y="393.8">ЭЦВ 8-40-120</text>
<circle cx="306.2" cy="389.5" r="3.7" fill="#9f99c2"/><text class="lg" x="310.3" y="393.8">ЭЦВ 8-40-125</text>
<circle cx="391.2" cy="389.5" r="3.7" fill="#d66c1e"/><text class="lg" x="395.5" y="393.8">ЭЦВ 8-40-140</text>
<circle cx="477.5" cy="389.5" r="3.7" fill="#f5c58c"/><text class="lg" x="481.5" y="393.8">ЭЦВ 8-40-150</text>
<circle cx="562.5" cy="389.5" r="3.7" fill="#aab520"/><text class="lg" x="566.8" y="393.8">ЭЦВ 8</text>
<text class="lg" x="147.6" y="412.3">-40-160</text>
<circle cx="200.0" cy="408.0" r="3.7" fill="#e4709a"/><text class="lg" x="205.0" y="412.3">ЭЦВ 8-40-170</text>
<circle cx="284.6" cy="408.0" r="3.7" fill="#f0ea20"/><text class="lg" x="290.2" y="412.3">ЭЦВ 8-40-180</text>
<circle cx="370.0" cy="408.0" r="3.7" fill="#13579e"/><text class="lg" x="375.1" y="412.3">ЭЦВ 8-40-200</text>
</svg></body></html>
